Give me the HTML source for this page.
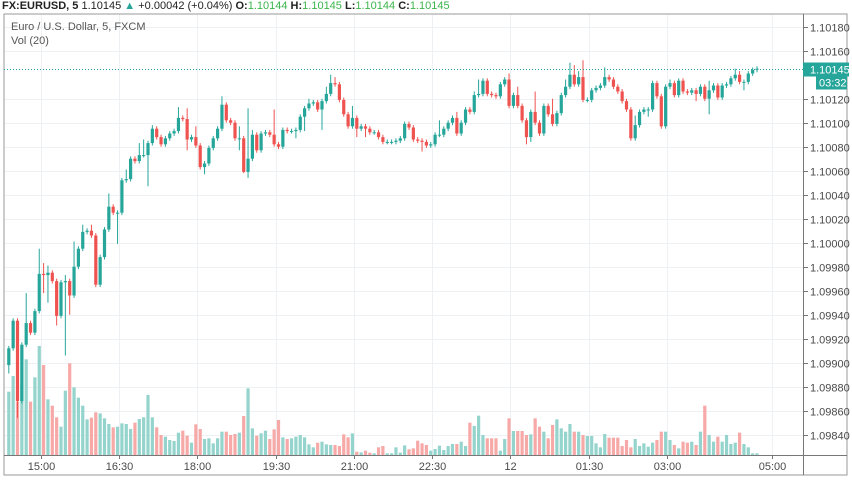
<!DOCTYPE html>
<html><head><meta charset="utf-8"><style>
body{margin:0;background:#fff;width:852px;height:485px;overflow:hidden;font-family:"Liberation Sans",sans-serif}
svg{position:absolute;left:0;top:0}
</style></head><body>
<svg id="c" width="852" height="485">
<g id="grid"></g>
<rect x="4" y="14" width="843" height="461" fill="none" stroke="#999" stroke-width="1"/>
<line x1="803.5" y1="14" x2="803.5" y2="475" stroke="#777"/>
<line x1="4" y1="455.5" x2="847" y2="455.5" stroke="#777"/>
<g id="vol"></g>
<g id="cand"></g>
<g id="yt"></g>
<g id="xt"></g>
<text x="2" y="9" font-size="11" font-weight="bold" fill="#222">FX:EURUSD, 5 <tspan font-weight="normal">1.10145</tspan> <tspan fill="#26a69a">▲</tspan> <tspan font-weight="normal">+0.00042 (+0.04%)</tspan> O:<tspan fill="#3bb54a" font-weight="normal">1.10144</tspan> H:<tspan fill="#3bb54a" font-weight="normal">1.10145</tspan> L:<tspan fill="#3bb54a" font-weight="normal">1.10144</tspan> C:<tspan fill="#3bb54a" font-weight="normal">1.10145</tspan></text>
<text x="11" y="30" font-size="11" fill="#555">Euro / U.S. Dollar, 5, FXCM</text>
<text x="11" y="44" font-size="11" fill="#555">Vol (20)</text>
</svg>
<script>
const closes=[1.09912,1.09935,1.09868,1.09915,1.09933,1.09925,1.09943,1.09974,1.09973,1.09975,1.09968,1.09939,1.09967,1.09968,1.09956,1.09980,1.09995,1.10009,1.10010,1.10006,1.09965,1.09988,1.10011,1.10030,1.10025,1.10025,1.10052,1.10053,1.10070,1.10068,1.10073,1.10073,1.10083,1.10095,1.10088,1.10082,1.10087,1.10091,1.10093,1.10104,1.10103,1.10086,1.10088,1.10081,1.10063,1.10066,1.10079,1.10087,1.10095,1.10115,1.10102,1.10100,1.10087,1.10087,1.10059,1.10070,1.10090,1.10077,1.10091,1.10092,1.10090,1.10082,1.10080,1.10094,1.10093,1.10093,1.10094,1.10105,1.10112,1.10116,1.10117,1.10111,1.10118,1.10124,1.10133,1.10132,1.10119,1.10107,1.10097,1.10104,1.10095,1.10097,1.10095,1.10092,1.10092,1.10088,1.10084,1.10084,1.10084,1.10085,1.10087,
1.10099,1.10096,1.10086,1.10085,1.10084,1.10081,1.10082,1.10090,1.10090,1.10095,1.10100,1.10104,1.10091,1.10100,1.10111,1.10109,1.10123,1.10124,1.10135,1.10124,1.10123,1.10122,1.10132,1.10136,1.10114,1.10123,1.10114,1.10102,1.10088,1.10109,1.10100,1.10091,1.10114,1.10107,1.10099,1.10108,1.10123,1.10130,1.10140,1.10132,1.10138,1.10119,1.10119,1.10127,1.10129,1.10131,1.10138,1.10136,1.10130,1.10126,1.10118,1.10111,1.10087,1.10098,1.10109,1.10111,1.10111,1.10133,1.10122,1.10097,1.10130,1.10133,1.10123,1.10135,1.10126,1.10125,1.10127,1.10124,1.10130,1.10120,1.10127,1.10131,1.10121,1.10131,1.10132,1.10137,1.10140,1.10134,1.10134,1.10141,1.10144,1.10145];
const firstOpen=1.09898;
const highMarks=[[4,1.09958],[7,1.09995],[8,1.09983],[9,1.09981],[12,1.09969],[13,1.09973],[15,1.10001],[17,1.10015],[19,1.10015],[23,1.10041],[27,1.10061],[30,1.10083],[31,1.10086],[33,1.10098],[39,1.10113],[41,1.10112],[43,1.10097],[49,1.10122],[53,1.10097],[55,1.10112],[56,1.10094],[61,1.10111],[69,1.10120],[73,1.10130],[74,1.10140],[75,1.10138],[79,1.10114],[99,1.10102],[103,1.10109],[107,1.10126],[108,1.10136],[114,1.10138],[115,1.10141],[117,1.10130],[121,1.10126],[125,1.10120],[128,1.10136],[129,1.10150],[130,1.10148],[131,1.10143],[132,1.10152],[137,1.10146],[144,1.10106],[152,1.10136],[161,1.10135],[167,1.10145],[168,1.10143]];
const lowMarks=[[0,1.09891],[2,1.09854],[8,1.09958],[9,1.09950],[11,1.09931],[13,1.09906],[14,1.09940],[25,1.09999],[32,1.10047],[41,1.10077],[45,1.10057],[53,1.10077],[54,1.10058],[55,1.10054],[66,1.10087],[68,1.10093],[72,1.10094],[80,1.10088],[82,1.10088],[95,1.10076],[119,1.10082],[120,1.10084],[147,1.10105],[158,1.10118],[161,1.10107],[169,1.10127]];
const volumes=[190,237,160,215,287,160,233,327,270,167,148,113,85,193,275,203,172,148,107,112,128,125,110,93,83,85,95,93,78,97,108,113,180,113,83,60,55,45,42,67,73,58,37,92,78,48,50,35,50,70,70,60,63,67,117,200,80,58,65,73,48,77,105,53,48,50,55,60,53,32,23,37,40,32,30,30,27,62,53,65,10,8,13,7,5,23,27,5,5,23,7,
29,17,20,43,35,30,13,18,28,15,27,33,33,40,27,97,87,118,60,50,50,50,13,48,110,72,72,72,60,62,110,85,70,50,90,107,80,70,93,70,70,60,57,57,35,23,63,52,52,52,27,45,23,48,27,35,25,37,45,70,70,45,30,20,40,37,40,30,70,148,60,40,55,40,60,33,37,67,33,23,5,5];
const priceTicks=[1.09840,1.09860,1.09880,1.09900,1.09920,1.09940,1.09960,1.09980,1.10000,1.10020,1.10040,1.10060,1.10080,1.10100,1.10120,1.10160,1.10180];
const timeTicks=[["15:00",0],["16:30",90],["18:00",180],["19:30",270],["21:00",360],["22:30",450],["12",540],["01:30",630],["03:00",720],["05:00",840]];
const lastPrice=1.10145;

const NS="http://www.w3.org/2000/svg";
const yS=p=>122.7-(p-1.101)/0.0002*24;
const xS=i=>757-(closes.length-1-i)*4.35;
const xT=m=>40.7+m/5*4.35;
const vS=v=>v/3;
function mk(tag,attrs,parent){const e=document.createElementNS(NS,tag);for(const k in attrs)e.setAttribute(k,attrs[k]);parent.appendChild(e);return e;}
const G=document.getElementById('grid'),C=document.getElementById('cand'),V=document.getElementById('vol'),YT=document.getElementById('yt'),XT=document.getElementById('xt'),S=document.getElementById('c');
const hiMap={},loMap={};highMarks.forEach(a=>hiMap[a[0]]=a[1]);lowMarks.forEach(a=>loMap[a[0]]=a[1]);
priceTicks.forEach(p=>{const y=Math.round(yS(p))+0.5;
 const l=mk('line',{x1:4,x2:803,y1:y,y2:y,stroke:'#eef1f4'},G);
 
 
 const t=mk('line',{x1:803,x2:808,y1:y,y2:y,stroke:'#777'},YT);
 
 
 const tx=mk('text',{x:810,y:y+4,'font-size':11,fill:'#4a4a4a'},YT);tx.textContent=p.toFixed(5);
 
 
});
timeTicks.forEach(t=>{const x=Math.round(xT(t[1]))+0.5;
 const l=mk('line',{x1:x,x2:x,y1:14,y2:455,stroke:'#eef1f4'},G);
 
 
 const tk=mk('line',{x1:x,x2:x,y1:455,y2:459,stroke:'#777'},XT);
 
 
 const tx=mk('text',{x:x,y:470,'font-size':11,fill:'#4a4a4a','text-anchor':'middle'},XT);tx.textContent=t[0];
 
 
});
closes.forEach((c,i)=>{
 const o=i===0?firstOpen:closes[i-1];
 const up=c>=o;const col=up?'#26a69a':'#ef5350';
 const x=xS(i);
 const hi=hiMap[i]!==undefined?hiMap[i]:Math.max(o,c)+0.00002;
 const lo=loMap[i]!==undefined?loMap[i]:Math.min(o,c)-0.00002;
 const w=mk('line',{x1:x,x2:x,y1:yS(hi),y2:yS(lo),stroke:col,'stroke-width':1},C);
 
 
 const yt=yS(Math.max(o,c)),yb=yS(Math.min(o,c));
 const b=mk('rect',{x:x-1.6,y:yt,width:3.2,height:Math.max(1,yb-yt),fill:col},C);
 
 
 const v=volumes[i]||0;
 const vb=mk('rect',{x:x-1.6,y:455-vS(v),width:3.2,height:vS(v),fill:up?'#95d4cd':'#f6a9a7'},V);
 
 
});
const ly=Math.round(yS(lastPrice))+0.5;
const pl=mk('line',{x1:4,x2:803,y1:ly,y2:ly,stroke:'#26a69a','stroke-dasharray':'1,2','stroke-width':1},S);


const pb=mk('rect',{x:803,y:ly-7,width:46,height:14,fill:'#26a69a'},S);


const pt=mk('text',{x:810,y:ly+4,'font-size':11,fill:'#fff'},S);pt.textContent=lastPrice.toFixed(5);


const cb=mk('rect',{x:816,y:ly+7,width:31,height:13,fill:'#26a69a'},S);


const ct=mk('text',{x:819,y:ly+17,'font-size':11,fill:'#fff'},S);ct.textContent='03:32';


</script>
</body></html>
